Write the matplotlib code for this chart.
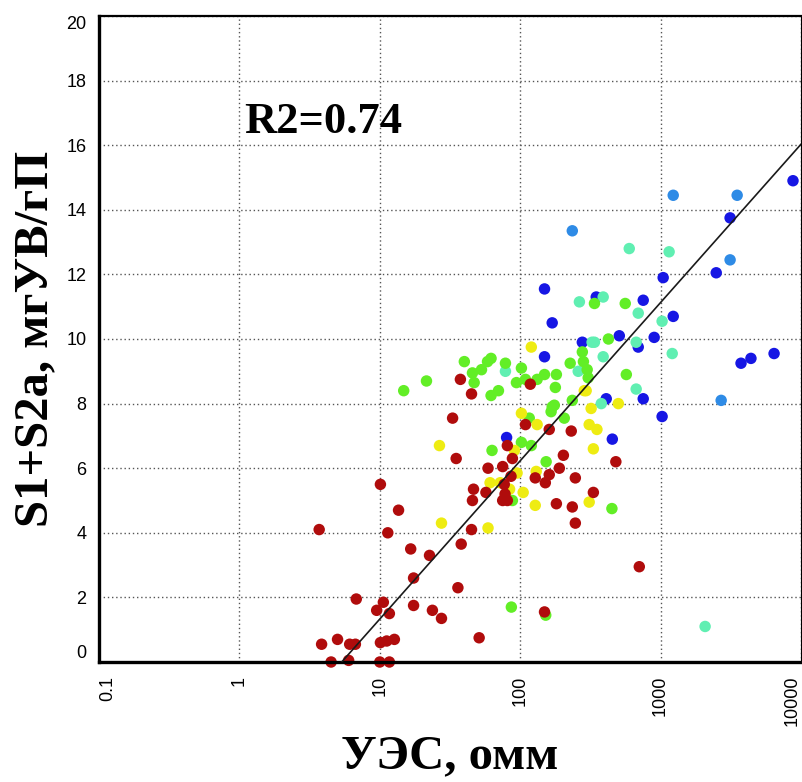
import numpy as np
import matplotlib
matplotlib.use("Agg")
import matplotlib.pyplot as plt

# resistivity (ohm*m) and S1+S2a values, grouped by marker colour
red_x = [3.7, 10.1, 11.4, 13.6, 16.6, 22.6, 38, 45, 17.4, 36, 6.8, 10.6, 9.5, 11.7, 17.4, 23.7,
         27.5, 51, 3.85, 5.0, 6.1, 6.7, 10.1, 11.2, 12.7, 4.5, 6.0, 10.0, 11.7, 149, 705, 35,
         37.5, 45, 118, 33, 81, 59, 75, 88, 86, 203, 190, 161, 128, 151, 247, 332, 181, 235,
         247, 77, 78, 75, 81, 57, 46.5, 45.7, 109, 161, 231, 480]
red_y = [4.1, 5.5, 4.0, 4.7, 3.5, 3.3, 3.65, 4.1, 2.6, 2.3, 1.95, 1.85, 1.6, 1.5, 1.75, 1.6,
         1.35, 0.75, 0.55, 0.7, 0.55, 0.55, 0.6, 0.65, 0.7, 0.0, 0.05, 0.0, 0.0, 1.55, 2.95, 6.3,
         8.75, 8.3, 8.6, 7.55, 6.7, 6.0, 6.05, 6.3, 5.75, 6.4, 6.0, 5.8, 5.7, 5.55, 5.7, 5.25, 4.9, 4.8,
         4.3, 5.5, 5.2, 5.0, 5.0, 5.25, 5.35, 5.0, 7.35, 7.2, 7.15, 6.2]

yellow_x = [26.6, 91, 332, 61, 72, 95, 105, 130, 128, 84, 310, 27.5, 59, 120, 102, 132, 320,
            310, 295, 286, 500, 352]
yellow_y = [6.7, 6.55, 6.6, 5.55, 5.55, 5.85, 5.25, 5.9, 4.85, 5.35, 4.95, 4.3, 4.15, 9.75, 7.7,
            7.35, 7.85, 7.35, 8.4, 8.4, 8.0, 7.2]

green_x = [14.8, 21.5, 40, 53, 58.5, 62, 45.7, 47, 78.5, 102, 62, 70, 94, 109, 132, 149, 181,
           178, 227, 282, 300, 305, 235, 169, 166, 206, 116, 102, 63, 153, 88, 120, 338, 560,
           425, 277, 570, 175, 86.5, 152, 450]
green_y = [8.4, 8.7, 9.3, 9.05, 9.3, 9.4, 8.95, 8.65, 9.25, 9.1, 8.25, 8.4, 8.65, 8.75, 8.75, 8.9,
           8.9, 8.5, 9.25, 9.3, 9.05, 8.8, 8.1, 7.9, 7.75, 7.55, 7.55, 6.8, 6.55, 6.2, 5.0, 6.7, 11.1,
           11.1, 10.0, 9.6, 8.9, 7.95, 1.7, 1.45, 4.75]

aqua_x = [78.5, 259, 325, 264, 390, 693, 1025, 1210, 338, 390, 670, 670, 378, 598, 1150, 2075]
aqua_y = [9.0, 9.0, 9.9, 11.15, 11.3, 10.8, 10.55, 9.55, 9.9, 9.45, 9.9, 8.45, 8.0, 12.8, 12.7, 1.1]

lblue_x = [1230, 3510, 235, 3126, 2700]
lblue_y = [14.45, 14.45, 13.35, 12.45, 8.1]

blue_x = [8770, 3126, 2490, 1043, 149, 169, 348, 752, 1230, 508, 900, 693, 277, 149, 410, 752,
          1025, 453, 80, 3740, 4400, 6430]
blue_y = [14.9, 13.75, 12.05, 11.9, 11.55, 10.5, 11.3, 11.2, 10.7, 10.1, 10.05, 9.75, 9.9, 9.45,
          8.15, 8.15, 7.6, 6.9, 6.95, 9.25, 9.4, 9.55]

# trend line y = a*log10(x) + b, as drawn on the chart
fit_a = 4.9
fit_b = -3.57
r2_text = "R2=0.74"

x_ticks = [0.1, 1, 10, 100, 1000, 10000]
x_ticklabels = ["0.1", "1", "10", "100", "1000", "10000"]
y_ticks = list(range(0, 21, 2))

fig = plt.figure(figsize=(8.02, 7.82), dpi=100)
ax = fig.add_axes([99 / 802, 120 / 782, 702 / 802, 646 / 782])

groups = [
    (blue_x, blue_y, "#1616e4"),
    (lblue_x, lblue_y, "#2e8be6"),
    (aqua_x, aqua_y, "#60efb2"),
    (green_x, green_y, "#62ee26"),
    (yellow_x, yellow_y, "#eeec12"),
    (red_x, red_y, "#b00c0c"),
]
for gx, gy, col in groups:
    ax.scatter(gx, gy, s=68, color=col, edgecolors="none", clip_on=False, zorder=2)

x0 = 10 ** (-fit_b / fit_a)
xs = np.logspace(np.log10(x0), 4, 50)
ax.plot(xs, fit_a * np.log10(xs) + fit_b, color="#1a1a1a", lw=1.2, zorder=3)

ax.set_xscale("log")
ax.set_xlim(0.1, 10000)
ax.set_ylim(0, 20)
ax.set_xticks(x_ticks)
ax.set_xticks([], minor=True)
ax.set_xticklabels(x_ticklabels, rotation=90, fontsize=13, family="Liberation Sans")
ax.set_yticks(y_ticks)
ax.set_yticklabels([str(v) for v in y_ticks], fontsize=13, family="Liberation Sans")
ax.tick_params(axis="x", length=0, pad=10)
ax.tick_params(axis="y", length=0, pad=9)
xl = ax.get_xticklabels()
xl[0].set_ha("left")
xl[-1].set_ha("right")
yl = ax.get_yticklabels()
yl[0].set_va("bottom")
yl[-1].set_va("top")

ax.grid(True, which="major", linestyle=(0, (1, 2)), color="#555555", lw=1.0)
ax.set_axisbelow(True)

for side, lw in [("left", 2.4), ("bottom", 2.4), ("top", 1.6), ("right", 0.8)]:
    ax.spines[side].set_linewidth(lw)
    ax.spines[side].set_color("black")

ax.set_xlabel("УЭС, омм", fontsize=35, family="Liberation Serif", fontweight="bold")
ax.set_ylabel("S1+S2a, мгУВ/гП", fontsize=35, family="Liberation Serif", fontweight="bold")
ax.xaxis.set_label_coords(0.5, -0.112)
ax.yaxis.set_label_coords(-0.06, 0.5)

ax.text(1.09, 16.38, r2_text, fontsize=32, family="Liberation Serif", fontweight="bold",
        ha="left", va="baseline")

fig.savefig("out.png", dpi=100)
